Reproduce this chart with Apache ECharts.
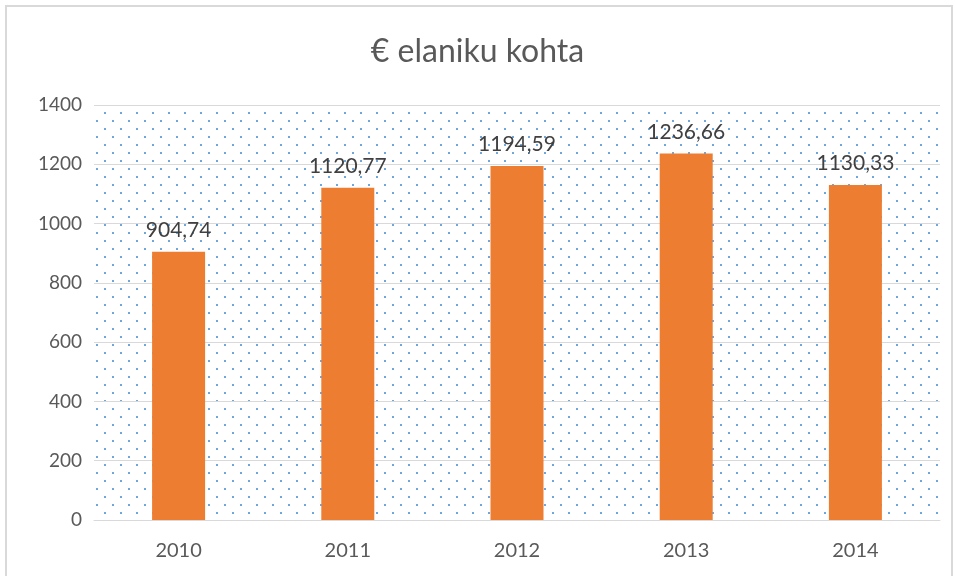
<!DOCTYPE html>
<html><head><meta charset="utf-8">
<script src="https://cdn.jsdelivr.net/npm/echarts@6/dist/echarts.min.js"></script>
<style>html,body{margin:0;padding:0;background:#fff}#c{width:955px;height:576px}
#frame{position:absolute;left:5px;top:5px;width:944px;height:580px;border:2px solid #d9d9d9;pointer-events:none}</style>
</head><body><div id="c"></div><div id="frame"></div>
<script>
const categories = ['2010','2011','2012','2013','2014'];
const values = [904.74, 1120.77, 1194.59, 1236.66, 1130.33];
const yTicks = [0,200,400,600,800,1000,1200,1400];

const pc = document.createElement('canvas');
pc.width = 16; pc.height = 16;
const g = pc.getContext('2d');
g.fillStyle = '#ffffff'; g.fillRect(0,0,16,16);
g.fillStyle = '#6fa6db';
g.fillRect(8,0,2,2); g.fillRect(0,8,2,2);

const FONT = 'Lato';
const chart = echarts.init(document.getElementById('c'));
chart.setOption({
  animation:false,
  title:{text:'€ elaniku kohta',left:'center',top:31,textStyle:{fontFamily:FONT,fontSize:32,fontWeight:'normal',color:'#595959'}},
  grid:{left:94,right:15,top:105,bottom:56,show:true,borderWidth:0,backgroundColor:{image:pc,repeat:'repeat'}},
  xAxis:{type:'category',data:categories,axisTick:{show:false},axisLine:{lineStyle:{color:'#d9d9d9'}},
    axisLabel:{color:'#595959',fontFamily:FONT,fontSize:20,margin:21}},
  yAxis:{type:'value',min:0,max:1400,interval:200,axisLine:{show:false},axisTick:{show:false},
    splitLine:{lineStyle:{color:'#d9d9d9',width:1}},
    axisLabel:{color:'#595959',fontFamily:FONT,fontSize:19,margin:12,formatter:v=>yTicks.includes(v)?String(v):''}},
  series:[{type:'bar',data:values,barWidth:53,itemStyle:{color:'#ed7d31'},
    label:{show:true,position:'top',distance:11,color:'#404040',fontFamily:FONT,fontSize:21,
      formatter:p=>p.value.toFixed(2).replace('.',',')}}]
});
</script></body></html>
